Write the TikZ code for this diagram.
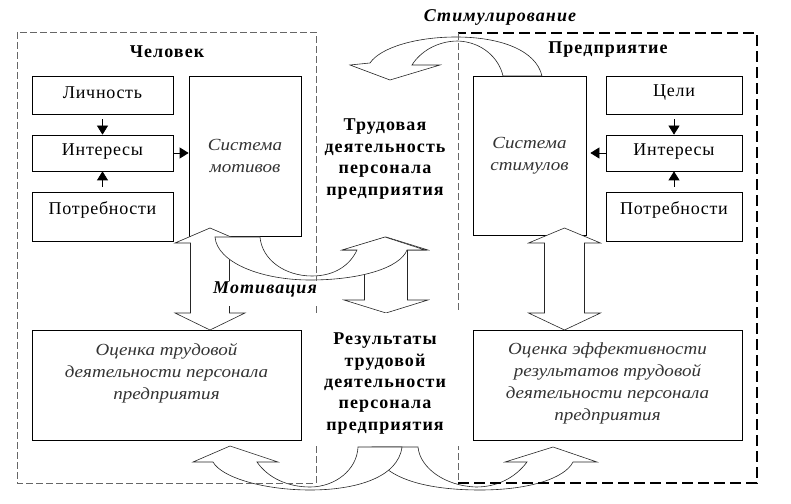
\documentclass[tikz,border=0pt]{standalone}
\usepackage{fontspec}
\setmainfont{Liberation Serif}
\newfontfamily\cursfont[FakeStretch=1.12]{Liberation Serif}
\newfontfamily\regsp[LetterSpace=4]{Liberation Serif}
\newfontfamily\boldsp[LetterSpace=6]{Liberation Serif}
\usetikzlibrary{arrows.meta}
\newcommand\fsz[2]{\fontsize{#1bp}{#2bp}\selectfont}
\newcommand\vdbl[7]{%
  \draw[blk] (#1,#4) -- ({#1+#3},#5) -- ({#1+#2},#5) -- ({#1+#2},#6) -- ({#1+#3},#6) -- (#1,#7)
    -- ({#1-#3},#6) -- ({#1-#2},#6) -- ({#1-#2},#5) -- ({#1-#3},#5) -- cycle;}
\tikzset{
  box/.style={draw=black, line width=0.7bp, fill=white, inner sep=0pt},
  txt/.style={font=\regsp\fsz{18}{22}, inner sep=0pt, align=center},
  lbl/.style={font=\boldsp\bfseries\fsz{18}{21.4}, inner sep=0pt, align=center},
  bilbl/.style={font=\boldsp\bfseries\itshape\fsz{18}{21}, inner sep=0pt, align=center},
  cur/.style={font=\cursfont\itshape\fsz{17}{22}, text=black!80, inner sep=0pt, align=center},
  sarr/.style={-{Triangle[length=9bp,width=11bp]}, line width=0.7bp},
  blk/.style={draw=black!85, line width=0.6bp, fill=white, line join=miter},
  dashL/.style={draw=black!60, line width=0.6bp, dash pattern=on 7bp off 3bp},
  dashR/.style={draw=black, line width=1.3bp, dash pattern=on 11bp off 5bp},
  cover/.style={fill=white, inner sep=0pt},
}
\begin{document}
\begin{tikzpicture}[x=1bp,y=-1bp]
\useasboundingbox (0,0) rectangle (791,504);
% --- boxes left
\node[box, minimum width=141bp, minimum height=38bp] (lich) at (102.5,95) {};
\node[box, minimum width=141bp, minimum height=36bp] (intL) at (102.5,153) {};
\node[box, minimum width=141bp, minimum height=49bp] (potrL) at (102.5,216.5) {};
\node[box, minimum width=112bp, minimum height=160bp] (sysM) at (245,156) {};
% --- boxes right
\node[box, minimum width=113bp, minimum height=159bp] (sysS) at (529.5,155.5) {};
\node[box, minimum width=136bp, minimum height=38bp] (celi) at (674,95) {};
\node[box, minimum width=136bp, minimum height=36bp] (intR) at (674,153) {};
\node[box, minimum width=136bp, minimum height=49bp] (potrR) at (674,216.5) {};
% --- bottom boxes
\node[box, minimum width=269bp, minimum height=110bp] (ocL) at (166.5,385) {};
\node[box, minimum width=269bp, minimum height=110bp] (ocR) at (607.5,385) {};
% --- box texts
\node[txt] (tlich) at (102.5,93) {Личность};
\node[txt] (tintL) at (102.5,152) {Интересы};
\node[txt] (tpotrL) at (102.5,210) {Потребности};
\node[txt] (tceli) at (674,93) {Цели};
\node[txt] (tintR) at (674,152) {Интересы};
\node[txt] (tpotrR) at (674,210) {Потребности};
\node[cur] (tsysM) at (245,155.5) {Система\\мотивов};
\node[cur] (tsysS) at (529.5,155.5) {Система\\стимулов};
\node[cur, anchor=north] (tocL) at (166.5,343) {Оценка трудовой\\деятельности персонала\\предприятия};
\node[cur, anchor=north] (tocR) at (607.5,343) {Оценка эффективности\\результатов трудовой\\деятельности персонала\\предприятия};
% --- small arrows
\draw[sarr, shorten <=5bp] (lich) -- (intL);
\draw[sarr, shorten <=5bp] (potrL) -- (intL);
\draw[sarr] (intL.east) -- (intL.east -| sysM.west);
\draw[sarr, shorten <=5bp] (celi) -- (intR);
\draw[sarr, shorten <=5bp] (potrR) -- (intR);
\draw[sarr, shorten >=4bp] (intR.west) -- (intR.west -| sysS.east);
% --- block double arrows
\vdbl{210}{19.5}{35}{228}{243}{313}{330}
\vdbl{564.5}{20}{36}{228}{243}{313}{330}
\vdbl{386}{21.5}{42}{237}{250}{300}{313}
% --- curved arrow "Мотивация"
\draw[blk] (215,237) .. controls (217,262) and (260,280) .. (310,280)
  .. controls (360,280) and (400,268) .. (407,250) -- (425,250) -- (385,237) -- (342,250) -- (357,250)
  .. controls (350,265) and (335,276) .. (312,276) .. controls (285,276) and (262,260) .. (260,237) -- cycle;
% --- curved arrow "Стимулирование"
\draw[blk] (542,76) .. controls (536,50) and (500,37) .. (456,37) .. controls (415,37) and (380,48) .. (370,63)
  -- (350,65) -- (390,80) -- (440,65) -- (412,65)
  .. controls (420,52) and (437,41) .. (458,41) .. controls (482,42) and (499,58) .. (503,76) -- cycle;
% --- bottom curved arrows
\draw[blk] (372,447) .. controls (380,480) and (430,490) .. (480,490) .. controls (530,490) and (565,478) .. (573,462)
  -- (597,462) -- (553,447) -- (505,462) -- (527,462)
  .. controls (515,478) and (497,487) .. (476,487) .. controls (445,486) and (420,468) .. (418,447) -- cycle;
\draw[blk] (402,447) .. controls (398,478) and (355,490) .. (310,490) .. controls (265,490) and (222,478) .. (213,462)
  -- (193,462) -- (230,446) -- (278,462) -- (257,462)
  .. controls (268,478) and (288,487) .. (310,487) .. controls (335,487) and (357,470) .. (358,447) -- cycle;
% --- dashed groups
\draw[dashL] (17,32) rectangle (316,483);
\draw[dashR] (458,483) -- (757,483) -- (757,33) -- (458,33);
\draw[dashL] (458,33) -- (458,483);
% --- covers over dashed lines
\node[cover, minimum width=106bp, minimum height=25bp] (motfr) at (265,293.5) {};
\node[cover, minimum width=147bp, minimum height=133bp] (resfr) at (387.5,379.5) {};
% --- headings and middle texts
\node[lbl] (hL) at (167,52) {Человек};
\node[lbl] (hR) at (608,50) {Предприятие};
\node[bilbl] (stim) at (500,17) {Стимулирование};
\node[bilbl] (motiv) at (265,289) {Мотивация};
\node[lbl] (trud) at (385,159) {Трудовая\\деятельность\\персонала\\предприятия};
\node[lbl] (res) at (385,383.5) {Результаты\\трудовой\\деятельности\\персонала\\предприятия};
\end{tikzpicture}
\end{document}
